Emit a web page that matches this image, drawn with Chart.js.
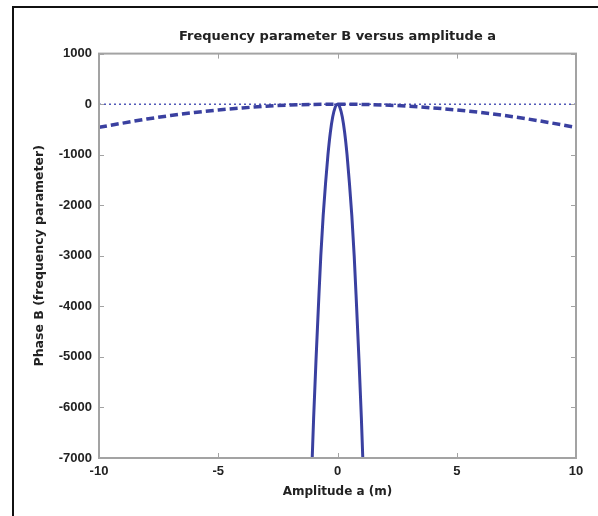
<!DOCTYPE html>
<html>
<head>
<meta charset="utf-8">
<script src="https://cdn.jsdelivr.net/npm/chart.js@4/dist/chart.umd.min.js"></script>
<style>
  html, body { margin: 0; padding: 0; background: #fff; }
  #wrap { position: relative; width: 598px; height: 516px; overflow: hidden; }
  #frame { position: absolute; left: 12px; top: 6px; width: 620px; height: 540px;
           border-left: 2px solid #111; border-top: 2px solid #111; pointer-events: none; }
</style>
</head>
<body>
<div id="wrap">
  <canvas id="chart" width="598" height="516"></canvas>
  <div id="frame"></div>
</div>
<script>
// Amplitude a (m) and phase B values
const steepA = [-1.06, -1.0, -0.9, -0.8, -0.7, -0.6, -0.5, -0.4, -0.3, -0.2, -0.1, 0,
                0.1, 0.2, 0.3, 0.4, 0.5, 0.6, 0.7, 0.8, 0.9, 1.0, 1.06];
const steepB = [-7000, -6200, -5050, -4000, -3000, -2200, -1560, -1000, -560, -250, -65, 0,
                -65, -250, -560, -1000, -1560, -2200, -3000, -4000, -5050, -6200, -7000];

const shallowA = [-10, -9, -8, -7, -6, -5, -4, -3, -2, -1, 0, 1, 2, 3, 4, 5, 6, 7, 8, 9, 10];
const shallowB = [-460, -375, -295, -225, -165, -115, -75, -42, -18, -5, 0, -5, -18, -42, -75, -115, -165, -225, -295, -375, -460];

const zeroA = [-10, 10];
const zeroB = [0, 0];

const xTicks = [-10, -5, 0, 5, 10];
const yTicks = [1000, 0, -1000, -2000, -3000, -4000, -5000, -6000, -7000];

const toPoints = (xs, ys) => xs.map((v, i) => ({ x: v, y: ys[i] }));

const lineBlue = '#3a40a0';
const axisGrey = '#a3a3a3';
const textCol = '#222';
const tickFont = { family: 'Liberation Sans', size: 13, weight: 'bold' };
const labelFont = { family: 'DejaVu Sans', size: 12, weight: 'bold' };

// MATLAB style box with inward ticks on every side
const boxTicks = {
    id: 'boxTicks',
    afterDraw(chart) {
        const { ctx, chartArea: a, scales: { x, y } } = chart;
        ctx.save();
        ctx.strokeStyle = axisGrey;
        ctx.lineWidth = 2;
        ctx.strokeRect(a.left, a.top, a.right - a.left, a.bottom - a.top);
        ctx.lineWidth = 1;
        ctx.beginPath();
        xTicks.forEach(t => {
            const px = Math.round(x.getPixelForValue(t)) + 0.5;
            ctx.moveTo(px, a.bottom); ctx.lineTo(px, a.bottom - 5);
            ctx.moveTo(px, a.top); ctx.lineTo(px, a.top + 5);
        });
        yTicks.forEach(t => {
            const py = Math.round(y.getPixelForValue(t)) + 0.5;
            ctx.moveTo(a.left, py); ctx.lineTo(a.left + 5, py);
            ctx.moveTo(a.right, py); ctx.lineTo(a.right - 5, py);
        });
        ctx.stroke();
        ctx.restore();
    }
};

const ctx = document.getElementById('chart').getContext('2d');
new Chart(ctx, {
    type: 'line',
    data: {
        datasets: [
            {
                label: 'steep',
                data: toPoints(steepA, steepB),
                borderColor: lineBlue,
                borderWidth: 3,
                pointRadius: 0,
                cubicInterpolationMode: 'monotone'
            },
            {
                label: 'shallow',
                data: toPoints(shallowA, shallowB),
                borderColor: lineBlue,
                borderWidth: 3.5,
                borderDash: [8, 4],
                pointRadius: 0,
                cubicInterpolationMode: 'monotone'
            },
            {
                label: 'zero',
                data: toPoints(zeroA, zeroB),
                borderColor: '#5058b8',
                borderWidth: 1.5,
                borderDash: [2, 3],
                pointRadius: 0
            }
        ]
    },
    options: {
        responsive: false,
        animation: false,
        layout: { padding: { top: 0, left: 0, right: 22, bottom: 0 } },
        plugins: {
            legend: { display: false },
            tooltip: { enabled: false },
            title: {
                display: true,
                fullSize: false,
                text: 'Frequency parameter B versus amplitude a',
                color: textCol,
                font: { family: 'DejaVu Sans', size: 13, weight: 'bold' },
                padding: { top: 29, bottom: 9 }
            }
        },
        scales: {
            x: {
                type: 'linear',
                min: -10,
                max: 10,
                afterFit: s => { s.height = 58; },
                afterBuildTicks: s => { s.ticks = xTicks.map(v => ({ value: v })); },
                grid: { drawOnChartArea: false, drawTicks: false },
                border: { display: false },
                ticks: {
                    padding: 6,
                    color: textCol,
                    font: tickFont,
                    callback: v => String(v)
                },
                title: {
                    display: true,
                    text: 'Amplitude a (m)',
                    color: textCol,
                    font: labelFont,
                    padding: { top: 0, bottom: 17 }
                }
            },
            y: {
                min: -7000,
                max: 1000,
                afterFit: s => { s.width = 99; },
                afterBuildTicks: s => { s.ticks = yTicks.map(v => ({ value: v })); },
                grid: { drawOnChartArea: false, drawTicks: false },
                border: { display: false },
                ticks: {
                    padding: 7,
                    color: textCol,
                    font: tickFont,
                    callback: v => String(v)
                },
                title: {
                    display: true,
                    text: 'Phase B (frequency parameter)',
                    color: textCol,
                    font: { family: 'DejaVu Sans', size: 12.5, weight: 'bold' },
                    padding: { top: 32, bottom: 0 }
                }
            }
        }
    },
    plugins: [boxTicks]
});
</script>
</body>
</html>
